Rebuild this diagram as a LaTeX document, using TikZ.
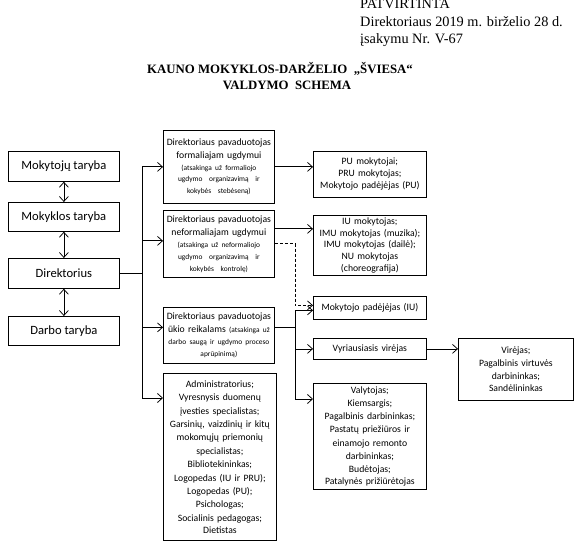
\documentclass[tikz,border=0pt]{standalone}
\usepackage{fontspec}
\setmainfont{Liberation Serif}[BoldFont={Liberation Serif Bold}]
\newfontfamily\calfont{Carlito}
\usetikzlibrary{arrows.meta,calc}
\begin{document}
\begin{tikzpicture}[x=1pt,y=-1pt,
  every node/.style={inner sep=0pt},
  box/.style={draw, line width=0.75pt, anchor=north west, align=center, inner sep=0pt, font=\calfont},
  bigtxt/.style={font=\calfont\fontsize{12.6}{15}\selectfont},
  hdrtxt/.style={anchor=base west, font=\fontsize{14.3}{17}\selectfont},
  ttltxt/.style={anchor=base, font=\bfseries\fontsize{12.8}{15}\selectfont},
  ln/.style={line width=0.75pt},
  arr/.style={ln, -{Straight Barb[length=5pt,width=9pt]}},
  darr/.style={ln, {Straight Barb[length=5pt,width=9pt]}-{Straight Barb[length=5pt,width=9pt]}},
  dsh/.style={arr, dash pattern=on 3pt off 2pt},
]
\useasboundingbox (0,0) rectangle (581,545);

% header
\node[hdrtxt] (h1) at (360,9) {PATVIRTINTA};
\node[hdrtxt] (h2) at (360,26.3) {Direktoriaus 2019 m. birželio 28 d.};
\node[hdrtxt] (h3) at (360,43.3) {įsakymu Nr. V-67};

% title
\node[ttltxt] (t1) at (280,74) {KAUNO MOKYKLOS-DARŽELIO \ „ŠVIESA“};
\node[ttltxt] (t2) at (287,90) {VALDYMO \ SCHEMA};

% left column
\node[box,bigtxt,minimum width=111,minimum height=30] (mt) at (8,151) {Mokytojų taryba};
\node[box,bigtxt,minimum width=111,minimum height=29] (mk) at (8,202) {Mokyklos taryba};
\node[box,bigtxt,minimum width=111,minimum height=30] (dir) at (8,258) {Direktorius};
\node[box,bigtxt,minimum width=111,minimum height=29] (dt) at (8,316) {Darbo taryba};

% middle column
\node[box,text width=111,minimum height=73] (f) at (163,130)
 {\fontsize{9.7}{13.2}\selectfont Direktoriaus pavaduotojas\\ formaliajam ugdymui\par
  \fontsize{7.4}{11.5}\selectfont (atsakinga už formaliojo\\ ugdymo \ organizavimą \ ir\\ kokybės \ stebėseną)};
\node[box,text width=111,minimum height=67] (nf) at (163,210)
 {\fontsize{9.7}{13.2}\selectfont Direktoriaus pavaduotojas\\ neformaliajam ugdymui\par
  \fontsize{7.4}{11.8}\selectfont (atsakinga už neformaliojo\\ ugdymo \ organizavimą \ ir\\ kokybės \ kontrolę)};
\node[box,text width=111,minimum height=56] (uk) at (163,307)
 {\fontsize{9.7}{12.4}\selectfont Direktoriaus pavaduotojas\\ ūkio reikalams {\fontsize{7.4}{12.4}\selectfont (atsakinga už}\par
  \fontsize{7.4}{12.4}\selectfont darbo saugą ir ugdymo proceso\\ aprūpinimą)};
\node[box,text width=113,minimum height=167] (adm) at (163,373)
 {\fontsize{9.7}{13.4}\selectfont Administratorius;\\ Vyresnysis duomenų\\ įvesties specialistas;\\ Garsinių, vaizdinių ir kitų\\ mokomųjų priemonių\\ specialistas;\\ Bibliotekininkas;\\ Logopedas (IU ir PRU);\\ Logopedas (PU);\\ Psichologas;\\ Socialinis pedagogas;\\ Dietistas};

% right column
\node[box,text width=113,minimum height=46] (pu) at (313,151)
 {\fontsize{9.7}{12}\selectfont PU mokytojai;\\ PRU mokytojas;\\ Mokytojo padėjėjas (PU)};
\node[box,text width=113,minimum height=60] (iu) at (313,215)
 {\fontsize{9.7}{11.7}\selectfont IU mokytojas;\\ IMU mokytojas (muzika);\\ IMU mokytojas (dailė);\\ NU mokytojas\\ (choreografija)};
\node[box,text width=113,minimum height=23] (mp) at (313,296)
 {\fontsize{9.7}{12}\selectfont Mokytojo padėjėjas (IU)};
\node[box,text width=113,minimum height=21] (vyr) at (313,338)
 {\fontsize{9.7}{12}\selectfont Vyriausiasis virėjas};
\node[box,text width=113,minimum height=106] (val) at (313,383)
 {\fontsize{9.7}{13.1}\selectfont Valytojas;\\ Kiemsargis;\\ Pagalbinis darbininkas;\\ Pastatų priežiūros ir\\ einamojo remonto\\ darbininkas;\\ Budėtojas;\\ Patalynės prižiūrėtojas};
\node[box,text width=115,minimum height=62] (vir) at (458,338)
 {\fontsize{9.7}{13.3}\selectfont Virėjas;\\ Pagalbinis virtuvės\\ darbininkas;\\ Sandėlininkas};

% left double arrows
\draw[darr] (mt.south) -- (mk.north);
\draw[darr] (mk.south) -- (dir.north);
\draw[darr] (dir.south) -- (dt.north);

% trunk from director
\coordinate (tr) at (142,0);
\coordinate (aUk) at ([yshift=8pt]uk.west);
\coordinate (aNf) at ([yshift=3pt]nf.west);
\coordinate (aAdm) at ([yshift=-25pt]adm.north west);
\draw[ln] (dir.east) -- (dir.east -| tr);
\draw[ln] (tr |- f.west) -- (tr |- aAdm);
\draw[arr] (tr |- f.west) -- (f.west);
\draw[arr] (tr |- aNf) -- (aNf);
\draw[arr] (tr |- aUk) -- (aUk);
\draw[arr] (tr |- aAdm) -- (aAdm);

% middle to right
\draw[arr] (f.east) -- (f.east -| pu.west);
\coordinate (oNf) at ([yshift=15pt]nf.east);
\draw[arr] (oNf) -- (oNf -| iu.west);

% dashed to Mokytojo padejejas (IU)
\coordinate (v) at (295,0);
\coordinate (mpD) at ([yshift=2.5pt]mp.west);
\coordinate (mpS) at ([yshift=-2.5pt]mp.west);
\draw[dsh] (nf.east) -- (nf.east -| v) -- (v |- mpD) -- (mpD);

% uk branch
\coordinate (oUk) at ([yshift=8pt]uk.east);
\coordinate (aVal) at ([yshift=-16pt]val.north west);
\draw[ln] (oUk) -- (oUk -| v);
\draw[ln] (v |- mpS) -- (v |- aVal);
\draw[arr] (v |- mpS) -- (mpS);
\draw[arr] (v |- vyr.west) -- (vyr.west);
\draw[arr] (v |- aVal) -- (aVal);

% vyr to vir
\draw[arr] (vyr.east) -- (vyr.east -| vir.west);
\end{tikzpicture}
\end{document}
